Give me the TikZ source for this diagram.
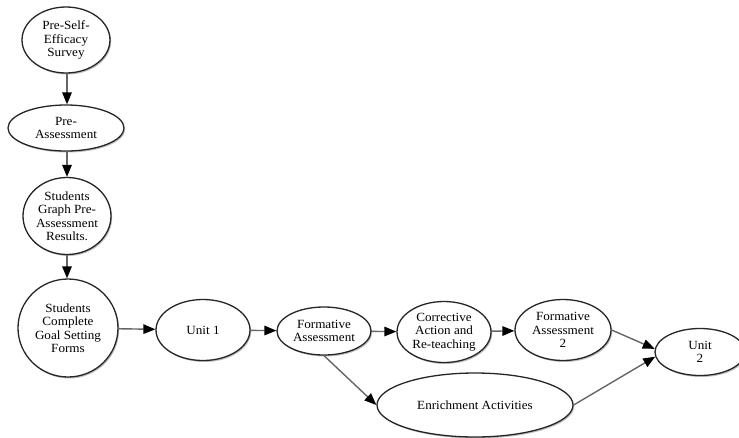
\documentclass[tikz,border=0pt]{standalone}
\usepackage{fontspec}
\setmainfont{Liberation Serif}[FakeStretch=1.05]
\usetikzlibrary{shapes.geometric,arrows.meta,shadows}
\begin{document}
\begin{tikzpicture}[x=1pt,y=-1pt,
  box/.style={ellipse,draw=black!85,line width=1.3pt,fill=white,inner sep=0pt,
    align=center,font=\fontsize{12.5}{13.5}\selectfont,
    drop shadow={shadow xshift=1.2pt,shadow yshift=-1.5pt,fill=black,opacity=0.25}},
  link/.style={draw=black!60,line width=1.4pt,
    -{Triangle[length=12pt,width=9.5pt,fill=black,color=black]}}]
\fill[white] (0,0) rectangle (739,437);
\useasboundingbox (0,0) rectangle (739,437);
\begin{scope}
\clip (0,0) rectangle (739,437);
\node[box,minimum width=88pt,minimum height=66pt] (n1) at (66,40) {Pre-Self-\\Efficacy\\Survey};
\node[box,minimum width=116pt,minimum height=46pt] (n2) at (66,128) {Pre-\\Assessment};
\node[box,minimum width=88pt,minimum height=77pt] (n3) at (67,216) {Students\\Graph Pre-\\Assessment\\Results.};
\node[box,minimum width=100pt,minimum height=98pt] (n4) at (68,328) {Students\\Complete\\Goal Setting\\Forms};
\node[box,minimum width=94pt,minimum height=61pt] (u1) at (203,330) {Unit 1};
\node[box,minimum width=94pt,minimum height=48pt] (fa) at (324,331) {Formative\\Assessment};
\node[box,minimum width=94pt,minimum height=61pt] (ca) at (444,332) {Corrective\\Action and\\Re-teaching};
\node[box,minimum width=96pt,minimum height=61pt] (fa2) at (563,330) {Formative\\Assessment\\2};
\node[box,minimum width=90pt,minimum height=47pt] (u2) at (700,352) {Unit\\2};
\node[box,minimum width=196pt,minimum height=64pt] (en) at (475,405) {Enrichment Activities};
\end{scope}
\draw[link] (n1.south -| 67,0) -- (n2.north -| 67,0);
\draw[link] (n2.south -| 67,0) -- (n3.north -| 67,0);
\draw[link] (n3.south -| 67,0) -- (n4.north -| 67,0);
\draw[link] (n4) -- (u1);
\draw[link] (u1) -- (fa);
\draw[link] (fa) -- (ca);
\draw[link] (ca) -- (fa2);
\draw[link] (fa.south) -- (en.west);
\draw[link] (fa2.east) -- (u2.176);
\draw[link] (en.east) -- (u2.186);
\end{tikzpicture}
\end{document}
